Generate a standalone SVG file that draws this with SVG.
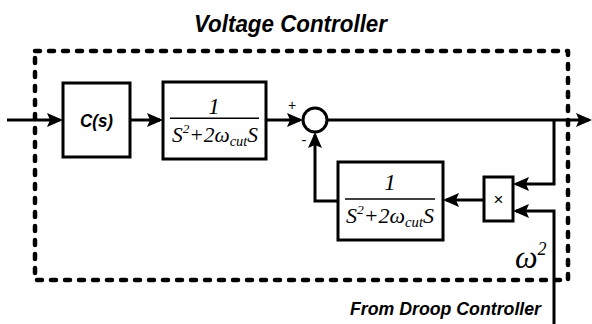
<svg xmlns="http://www.w3.org/2000/svg" width="592" height="324" viewBox="0 0 592 324">
<defs>
<style>
.box{fill:#fff;stroke:#000;stroke-width:3}
.ln{fill:none;stroke:#000;stroke-width:3}
.frac{stroke:#000;stroke-width:1.4}
.dash{fill:none;stroke:#000;stroke-width:4.5;stroke-dasharray:5 9;stroke-linecap:round;stroke-linejoin:round}
.sans{font-family:"Liberation Sans",Arial,sans-serif;font-weight:bold;font-style:italic;fill:#000}
.serif{font-family:"Liberation Serif","Times New Roman",serif;font-style:italic;fill:#000}
.plain{font-family:"Liberation Sans",Arial,sans-serif;fill:#000}
</style>
<marker id="ah" markerUnits="userSpaceOnUse" markerWidth="17" markerHeight="15" refX="13" refY="7" orient="auto">
<path d="M0,0 L16,7 L0,14 L3,7 Z" fill="#000"/>
</marker>
</defs>
<rect width="592" height="324" fill="#fff"/>

<g id="title">
<text class="sans" x="290.5" y="32" font-size="24" text-anchor="middle" textLength="193" lengthAdjust="spacingAndGlyphs">Voltage Controller</text>
</g>

<g id="boundary">
<path class="dash" d="M35,51 H568 V280 H35 Z"/>
</g>

<g id="connectors">
<path class="ln" d="M7,120 H60" marker-end="url(#ah)"/>
<path class="ln" d="M130,120 H160" marker-end="url(#ah)"/>
<path class="ln" d="M266,120 H300" marker-end="url(#ah)"/>
<path class="ln" d="M327,120 H589" marker-end="url(#ah)"/>
<path class="ln" d="M554,120 V184 H516" marker-end="url(#ah)"/>
<path class="ln" d="M554,324 V211 H516" marker-end="url(#ah)"/>
<path class="ln" d="M484,200 H446" marker-end="url(#ah)"/>
<path class="ln" d="M338,201 H315 V135" marker-end="url(#ah)"/>
</g>

<g id="cs">
<rect class="box" x="63" y="83" width="67" height="74"/>
<text class="sans" x="96.5" y="126.5" font-size="17.5" text-anchor="middle" textLength="33" lengthAdjust="spacingAndGlyphs">C(s)</text>
</g>

<g id="plant">
<rect class="box" x="163" y="82" width="103" height="77"/>
<line class="frac" x1="170" y1="118.3" x2="259" y2="118.3"/>
<text class="serif" x="214" y="114" font-size="23" text-anchor="middle">1</text>
<text class="serif" x="172" y="141.5" font-size="21" textLength="86" lengthAdjust="spacingAndGlyphs">S<tspan font-size="13" dy="-9">2</tspan><tspan dy="9">+2ω</tspan><tspan font-size="14" dy="4">cut</tspan><tspan dy="-4">S</tspan></text>
</g>

<g id="sum">
<circle cx="315" cy="120" r="12" fill="#fff" stroke="#000" stroke-width="3"/>
<text class="plain" x="292" y="110" font-size="14" text-anchor="middle">+</text>
<text class="plain" x="304" y="145" font-size="15" text-anchor="middle">-</text>
</g>

<g id="feedback">
<rect class="box" x="338" y="162" width="105" height="78"/>
<line class="frac" x1="345" y1="199" x2="435" y2="199"/>
<text class="serif" x="390" y="189.5" font-size="23" text-anchor="middle">1</text>
<text class="serif" x="346" y="222.5" font-size="21" textLength="88" lengthAdjust="spacingAndGlyphs">S<tspan font-size="13" dy="-9">2</tspan><tspan dy="9">+2ω</tspan><tspan font-size="14" dy="4">cut</tspan><tspan dy="-4">S</tspan></text>
</g>

<g id="mult">
<rect class="box" x="484" y="177" width="29" height="44"/>
<text class="plain" x="498.5" y="205" font-size="17" text-anchor="middle">×</text>
</g>

<g id="labels">
<text class="serif" x="515" y="268" font-size="32">ω<tspan font-size="18" dy="-13">2</tspan></text>
<text class="sans" x="350" y="315" font-size="17.5" textLength="191" lengthAdjust="spacingAndGlyphs">From Droop Controller</text>
</g>
</svg>
